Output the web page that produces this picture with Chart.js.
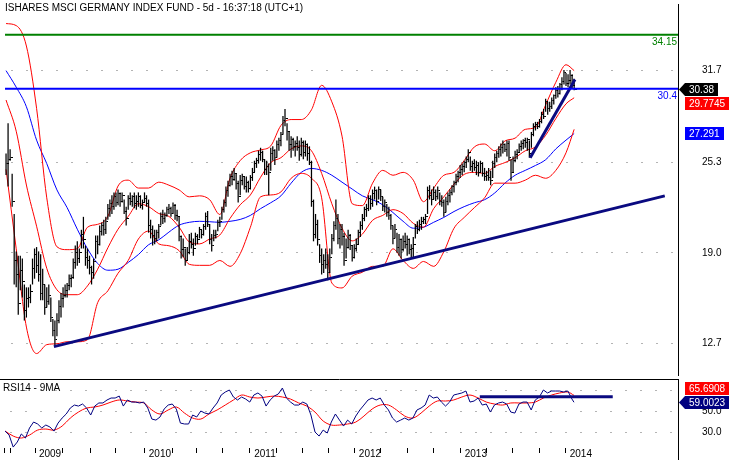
<!DOCTYPE html>
<html>
<head>
<meta charset="utf-8">
<title>iShares MSCI Germany Index Fund</title>
<script src="https://cdn.jsdelivr.net/npm/chart.js@4.4.1/dist/chart.umd.min.js"></script>
<style>
  html, body { margin: 0; padding: 0; background: #fff; }
  #marco { position: relative; width: 730px; height: 460px; overflow: hidden; }
  #graficoPrecio { position: absolute; left: 0; top: 0; }
  #graficoRsi { position: absolute; left: 0; top: 379px; }
</style>
</head>
<body>
<div id="marco">
  <canvas id="graficoPrecio" width="730" height="379"></canvas>
  <canvas id="graficoRsi" width="730" height="81"></canvas>
</div>
<script>
// Datos semanales (barras de 5 dias), semana 0 = mediados de sept. 2008
const maximos = [
  25.9,28.0,26.2,24.5,21.7,19.1,18.8,18.8,18.6,16.8,
  16.6,16.6,16.8,18.6,19.3,19.4,19.1,18.9,17.9,16.8,
  16.6,16.8,15.9,14.4,14.3,14.8,15.7,16.2,16.6,16.8,
  16.9,17.5,17.5,18.6,19.5,19.8,19.3,20.6,21.5,19.5,
  19.3,18.8,18.1,18.6,20.2,20.2,20.9,21.1,21.3,21.5,
  22.4,22.7,23.0,23.2,23.2,23.4,23.2,23.2,22.7,22.2,
  23.0,23.2,23.0,23.2,23.0,23.2,23.0,22.7,23.2,23.0,
  22.7,21.3,20.9,20.6,20.6,21.0,21.8,22.0,21.8,22.2,
  22.4,22.2,22.5,22.4,22.0,21.5,20.2,20.0,19.3,19.4,
  20.3,20.4,20.0,20.4,20.3,20.8,20.6,21.0,21.8,21.9,
  21.0,20.3,20.6,20.6,21.3,21.5,22.2,22.7,23.6,24.0,
  24.5,24.7,24.9,24.5,24.0,24.4,24.5,24.3,24.3,24.0,
  24.4,24.9,25.4,25.6,26.1,26.3,26.1,25.5,25.4,25.2,
  26.3,26.4,26.2,26.8,27.0,27.4,28.5,29.0,28.0,27.4,
  27.1,27.0,26.8,27.1,26.8,27.0,26.8,26.8,26.6,26.4,
  25.4,22.7,21.7,21.3,19.6,19.3,18.9,19.3,18.9,19.3,
  20.3,21.2,22.7,21.7,21.0,21.0,20.4,20.0,20.6,20.3,
  19.5,19.6,20.0,20.6,21.2,21.7,22.2,22.4,23.0,23.0,
  23.4,23.6,23.4,23.6,23.4,22.9,22.7,22.4,22.2,21.7,
  20.9,21.0,20.4,20.3,20.0,20.2,20.4,20.2,20.0,19.6,
  20.1,21.0,21.2,21.3,21.5,21.5,21.7,23.6,23.7,23.4,
  23.6,23.4,23.6,23.2,23.0,22.7,22.9,23.2,23.4,23.7,
  24.0,24.5,24.7,25.1,25.2,25.4,25.7,26.2,25.7,25.4,
  25.5,25.4,25.3,25.4,25.3,24.9,24.7,24.9,24.7,25.4,
  25.9,26.1,26.4,26.6,26.8,26.6,26.8,26.8,25.5,25.7,
  26.1,26.2,26.6,26.8,26.9,27.0,27.0,26.8,27.4,28.0,
  28.1,28.1,28.3,28.8,29.0,29.7,29.5,29.5,29.8,30.0,
  30.5,30.6,30.8,31.2,31.7,31.5,31.4,31.7,31.4,31.1
];
const minimos = [
  24.4,23.6,25.4,22.2,16.8,16.6,14.7,16.4,15.9,14.3,
  14.5,15.2,15.5,16.8,17.2,17.6,17.0,15.7,15.7,14.7,
  15.2,15.4,14.2,13.2,12.6,13.2,14.1,14.5,15.2,15.9,
  15.9,16.4,16.6,17.2,17.9,18.1,18.3,19.3,19.3,18.1,
  17.9,17.5,16.8,17.2,18.6,18.9,19.5,20.2,20.2,20.3,
  21.3,21.5,21.7,22.0,22.2,22.3,22.2,22.5,21.7,20.9,
  22.0,22.3,22.2,22.1,22.0,22.2,22.1,22.0,22.5,22.2,
  20.4,20.0,19.5,19.6,19.8,20.0,20.9,21.0,21.1,21.5,
  21.7,21.5,21.7,21.3,21.2,19.8,18.6,18.7,18.1,18.5,
  18.9,19.3,18.8,19.5,19.6,20.0,20.0,20.2,20.6,20.8,
  19.6,19.1,19.8,20.0,20.5,20.8,21.3,21.8,22.2,22.9,
  23.6,23.7,24.0,23.4,22.5,23.0,23.7,23.4,23.2,23.2,
  23.4,24.0,24.6,24.9,25.2,25.4,25.3,24.4,24.4,23.0,
  24.7,25.4,25.1,25.6,26.1,26.4,27.2,27.8,26.8,26.1,
  25.6,26.1,25.7,26.1,25.4,25.7,25.5,25.7,25.4,25.1,
  22.2,19.8,20.0,19.5,18.3,17.5,17.6,17.9,17.1,17.6,
  18.9,19.8,20.6,19.6,19.3,19.5,18.1,18.6,19.3,19.2,
  18.4,18.6,19.1,19.6,20.1,20.6,21.2,21.5,21.9,22.0,
  22.2,22.7,22.3,22.7,22.6,21.9,21.8,21.5,21.3,20.6,
  19.6,20.0,19.0,18.8,18.6,19.1,19.3,18.8,18.9,18.6,
  18.7,20.0,20.3,20.5,20.6,21.0,21.0,21.7,22.7,22.3,
  22.7,22.6,22.7,22.3,22.2,21.5,21.8,22.3,22.5,23.0,
  23.2,23.7,23.9,24.2,24.4,24.6,24.9,25.3,24.7,24.6,
  24.7,24.4,24.3,24.6,24.3,24.0,24.0,24.0,23.7,24.2,
  24.9,25.3,25.6,25.7,25.9,26.0,25.7,25.4,24.0,24.6,
  25.3,25.5,26.0,26.1,26.2,26.3,26.1,25.6,26.3,27.1,
  27.5,27.6,27.7,28.0,28.3,28.8,28.6,28.8,29.0,29.3,
  29.7,29.8,30.0,30.3,30.7,30.6,30.5,30.7,30.4,30.3
];
const cierres = [
  25.2,25.5,25.6,22.6,18.5,17.5,15.5,17.8,17.0,15.0,
  15.8,15.9,16.3,17.9,18.9,18.1,17.5,16.2,16.8,15.2,
  15.6,16.0,14.5,13.6,13.0,14.3,15.3,15.8,16.0,16.4,
  16.7,17.2,17.3,18.3,19.0,18.6,19.0,20.3,19.9,18.7,
  18.5,18.0,17.6,18.4,19.8,19.6,20.5,20.9,20.6,21.2,
  22.1,22.4,22.2,22.9,22.5,23.1,22.6,23.0,21.9,21.4,
  22.8,22.6,22.9,22.4,22.6,22.9,22.3,22.5,22.8,22.4,
  20.9,20.6,20.2,20.0,20.4,20.8,21.5,21.4,21.6,22.0,
  22.1,21.7,22.3,21.6,21.5,20.1,19.2,19.4,18.5,19.0,
  19.8,19.6,19.3,20.1,19.9,20.6,20.3,20.8,21.5,21.0,
  19.9,19.5,20.2,20.3,21.1,21.2,22.0,22.5,23.3,23.7,
  24.3,24.1,24.5,23.8,22.9,24.0,24.3,23.6,23.9,23.5,
  24.2,24.6,25.2,25.4,25.8,26.0,25.5,24.8,25.0,24.6,
  25.9,26.1,25.6,26.5,26.8,27.2,28.2,28.3,27.4,26.5,
  26.9,26.4,26.6,26.3,25.8,26.7,26.0,26.5,25.9,25.3,
  22.6,20.3,21.0,19.9,18.8,18.2,18.5,18.2,17.6,18.7,
  20.0,20.9,21.4,20.0,20.6,20.1,18.5,19.4,20.2,19.5,
  18.7,19.3,19.6,20.4,20.9,21.4,22.0,22.1,22.8,22.4,
  23.1,23.3,22.6,23.4,22.9,22.2,22.5,21.8,21.6,20.9,
  20.0,20.6,19.4,19.9,19.2,19.8,19.6,19.9,19.2,19.3,
  19.6,20.8,20.6,21.0,21.2,21.3,21.5,23.3,23.0,22.7,
  23.2,22.9,23.3,22.6,22.5,21.8,22.6,23.0,23.2,23.6,
  23.9,24.3,24.6,24.8,25.0,25.3,25.5,26.0,25.0,25.2,
  24.9,25.1,24.6,25.2,24.5,24.3,24.4,24.2,24.0,25.2,
  25.6,25.9,26.2,26.3,26.5,26.2,26.6,25.6,24.6,25.4,
  25.8,26.0,26.4,26.6,26.8,26.7,26.9,25.9,27.2,27.8,
  27.9,27.8,28.1,28.6,28.5,29.5,29.0,29.2,29.6,29.9,
  30.3,30.1,30.7,30.9,31.5,30.8,31.0,31.3,30.6,30.38
];

// Bandas de Bollinger y media movil (leidas cada 5 semanas)
const semanasBandas = [0,5,10,15,20,25,30,35,40,45,50,55,60,65,70,75,80,85,90,95,100,105,110,115,120,125,130,135,140,145,150,155,160,165,170,175,180,185,190,195,200,205,210,215,220,225,230,235,240,245,250,255,260,265,270,275,279];
const bandaSuperior = [34.93,34.79,33.37,29.04,22.82,19.42,19.22,19.28,20.78,20.98,21.53,23.64,24.05,23.50,23.50,23.91,23.70,23.37,22.89,22.96,22.69,21.66,24.18,25.41,25.95,26.15,26.43,27.85,28.26,28.26,28.94,30.64,29.49,27.11,22.41,22.28,23.84,24.73,24.39,24.59,24.05,22.55,23.50,24.39,24.59,25.41,26.36,26.56,26.09,26.77,26.97,27.58,27.72,29.28,30.85,32.07,31.66];
const bandaMedia = [29.62,27.45,23.71,20.85,17.92,16.43,16.09,16.09,16.70,17.86,19.35,20.64,21.53,22.41,22.21,21.73,21.53,20.78,19.76,19.62,19.96,20.24,21.39,22.34,23.02,24.25,25.27,25.61,26.22,26.43,26.09,24.52,22.41,20.71,19.83,20.30,21.26,21.60,22.00,21.73,21.05,20.78,22.07,22.89,23.77,24.45,24.59,24.52,25.00,25.27,25.61,26.09,26.36,27.17,28.33,29.35,29.7745];
const bandaInferior = [24.8,19.28,13.84,12.00,12.62,12.68,12.82,12.82,12.96,15.54,16.36,17.58,18.47,19.96,20.51,19.62,19.49,19.15,18.20,18.13,18.13,18.47,18.06,18.94,20.78,22.89,23.02,23.23,24.18,24.52,24.18,22.82,16.90,16.56,17.38,17.65,18.06,18.06,19.28,18.47,17.92,18.40,18.06,19.08,20.71,21.46,22.14,22.82,23.84,23.84,23.84,24.05,24.39,24.18,24.73,25.95,27.58];
const mediaMovil = [31.66,30.51,29.15,26.83,25.20,23.37,22.14,20.64,19.28,18.26,17.79,17.86,18.33,18.88,19.56,19.90,20.44,20.92,21.12,21.19,21.16,21.12,21.19,21.32,21.60,22.07,22.48,22.96,23.84,24.59,24.86,24.73,24.39,23.91,23.43,22.96,22.69,22.34,21.80,21.19,20.71,20.78,21.12,21.46,21.87,22.21,22.48,22.69,23.16,23.84,24.39,24.73,25.07,25.47,26.22,26.83,27.291];

// RSI14 (cada 2 semanas) y su media de 9 (cada 4 semanas)
const rsi14 = [
  31.0,27.2,15.5,20.4,28.2,24.3,34.0,39.8,37.9,34.0,
  36.9,35.0,31.0,38.8,43.7,47.6,53.4,56.3,55.3,57.3,
  53.4,46.6,55.3,58.3,58.3,61.2,63.1,63.1,65.0,55.3,
  61.2,59.2,59.2,58.3,59.2,53.4,42.7,41.7,44.7,52.4,
  56.3,57.3,52.4,38.8,37.9,37.9,46.6,44.7,50.5,48.5,
  47.6,53.4,58.3,66.0,68.9,70.9,64.1,61.2,64.1,62.1,
  59.2,66.0,68.0,65.0,55.3,61.2,65.0,67.0,72.8,63.1,
  59.2,56.3,56.3,59.2,57.3,46.6,30.1,26.2,32.0,29.1,
  39.8,47.6,41.7,35.9,41.7,37.9,45.6,51.5,56.3,61.2,
  63.1,61.2,63.1,56.3,51.5,43.7,39.8,41.7,43.7,41.7,
  43.7,51.5,53.4,56.3,66.0,63.1,64.1,59.2,55.3,59.2,
  66.0,67.0,68.0,69.9,59.2,60.2,63.1,56.3,57.3,49.5,
  56.3,58.3,59.2,57.3,49.5,48.5,57.3,59.2,59.2,51.5,
  61.2,64.1,70.9,68.0,69.9,69.9,69.9,68.9,69.9,62.1,
  59.0023
];
const mediaRsi = [
  31.1,26.2,24.3,27.2,32.0,33.0,32.0,35.9,43.7,49.5,
  53.4,54.4,56.3,59.2,61.2,60.2,59.2,58.3,51.5,47.6,
  51.5,54.4,48.5,43.7,42.7,47.6,51.5,56.3,61.2,66.0,
  64.1,63.1,64.1,65.0,64.1,62.1,58.3,55.3,49.5,40.8,
  36.9,36.9,37.9,39.8,45.6,52.4,56.3,56.3,51.5,45.6,
  43.7,48.5,55.3,60.2,60.2,61.2,64.1,66.0,63.1,59.2,
  57.3,56.3,58.3,58.3,58.3,59.2,63.1,66.0,68.0,68.9,
  65.6908
];

// Lineas dibujadas a mano en el grafico original
const nivelVerde = 34.15;
const nivelAzul = 30.4;
const soporteSemanas = [23.5, 323.5];
const soporteValores = [12.48, 22.96];
const canalSemanas = [257.4, 279.4];
const canalValores = [25.61, 31.05];
const lineaRsiSemanas = [232.8, 298];
const lineaRsiValor = 64.4;

// Ejes
const ticksPrecio = [12.7, 19.0, 25.3, 31.7];
const ticksRsi = [30, 50, 70];
const semanasTrimestre = [-0.5, 2.9, 14.7, 28.4, 41.7, 54.4, 68.6, 81.9, 94.1, 106.4, 120.1, 133.3, 146.1, 158.8, 171.6, 184.3, 197.5, 210.3, 223.5, 236.3, 249.0, 262.3, 275.0];
const semanasAnio = [14.7, 68.6, 120.1, 171.6, 223.5, 275.0];
const etiquetasAnio = ['2009', '2010', '2011', '2012', '2013', '2014'];

const titulo = 'ISHARES MSCI GERMANY INDEX FUND - 5d - 16:37:18 (UTC+1)';
const fuente = '"Liberation Sans", Arial, sans-serif';

function rango(inicio, paso, n) {
    const r = [];
    for (let i = 0; i < n; i++) r.push(inicio + i * paso);
    return r;
}
const semanasRsi = rango(0, 2, 140).concat([279]);
const semanasMediaRsi = rango(0, 4, 70).concat([279]);

function puntos(semanas, valores) {
    return semanas.map((s, i) => ({ x: s, y: valores[i] }));
}

// Marca de cierre a la derecha de cada barra
const marcaCierre = document.createElement('canvas');
marcaCierre.width = 5;
marcaCierre.height = 1;
const ctxMarca = marcaCierre.getContext('2d');
ctxMarca.fillStyle = '#000';
ctxMarca.fillRect(3, 0, 2, 1);

// Etiquetas de valor en el eje derecho
function dibujarEtiqueta(ctx, texto, yc, fondo, colorTexto, flecha) {
    const alto = 13;
    const izq = 685;
    ctx.save();
    ctx.font = '10px ' + fuente;
    const ancho = Math.round(ctx.measureText(texto).width) + 8;
    const arriba = Math.round(yc - alto / 2);
    ctx.fillStyle = fondo;
    ctx.fillRect(izq, arriba, ancho, alto);
    if (flecha) {
        ctx.beginPath();
        ctx.moveTo(izq - 6, arriba + alto / 2);
        ctx.lineTo(izq, arriba);
        ctx.lineTo(izq, arriba + alto);
        ctx.closePath();
        ctx.fill();
    }
    ctx.fillStyle = colorTexto;
    ctx.textBaseline = 'middle';
    ctx.fillText(texto, izq + 4, arriba + alto / 2 + 0.5);
    ctx.restore();
}

function ubicarEtiquetas(etiquetas) {
    const alto = 14;
    const principal = etiquetas.find(e => e.flecha);
    const abajo = etiquetas.filter(e => !e.flecha && e.y >= principal.y).sort((a, b) => a.y - b.y);
    const arriba = etiquetas.filter(e => !e.flecha && e.y < principal.y).sort((a, b) => b.y - a.y);
    let ultimo = principal.y;
    abajo.forEach(e => { if (e.y < ultimo + alto) e.y = ultimo + alto; ultimo = e.y; });
    ultimo = principal.y;
    arriba.forEach(e => { if (e.y > ultimo - alto) e.y = ultimo - alto; ultimo = e.y; });
}

const rotulosPrecio = {
    id: 'rotulosPrecio',
    afterDraw(chart) {
        const { ctx, chartArea, scales } = chart;
        const y = scales.y;
        ctx.save();
        ctx.font = '10px ' + fuente;
        ctx.fillStyle = '#000';
        ctx.fillText(titulo, chartArea.left + 1, 11);
        ctx.textAlign = 'right';
        ctx.textBaseline = 'top';
        ctx.fillStyle = '#008000';
        ctx.fillText(nivelVerde.toFixed(2), chartArea.right - 1, y.getPixelForValue(nivelVerde) + 2);
        ctx.fillStyle = '#0000ff';
        ctx.fillText(String(nivelAzul), chartArea.right - 1, y.getPixelForValue(nivelAzul) + 2);
        ctx.restore();

        const n = cierres.length - 1;
        const etiquetas = [
            { v: cierres[n], fondo: '#000000', texto: '#ffffff', flecha: true },
            { v: bandaMedia[bandaMedia.length - 1], fondo: '#ff0000', texto: '#ffffff', flecha: false },
            { v: mediaMovil[mediaMovil.length - 1], fondo: '#0000ff', texto: '#ffffff', flecha: false }
        ];
        etiquetas.forEach(e => { e.y = y.getPixelForValue(e.v); });
        ubicarEtiquetas(etiquetas);
        etiquetas.forEach(e => dibujarEtiqueta(ctx, String(e.v), e.y, e.fondo, e.texto, e.flecha));
    }
};

const rotulosRsi = {
    id: 'rotulosRsi',
    afterDraw(chart) {
        const { ctx, chartArea, scales, height } = chart;
        ctx.save();
        ctx.strokeStyle = '#000';
        ctx.lineWidth = 1;
        ctx.beginPath();
        ctx.moveTo(0, 0.5);
        ctx.lineTo(chartArea.right + 1, 0.5);
        ctx.moveTo(chartArea.right + 0.5, chartArea.bottom);
        ctx.lineTo(chartArea.right + 0.5, height);
        ctx.stroke();
        ctx.font = '10px ' + fuente;
        ctx.fillStyle = '#000';
        ctx.fillText('RSI14 - 9MA', chartArea.left, 12);
        ctx.restore();

        const y = scales.y;
        const etiquetas = [
            { v: rsi14[rsi14.length - 1], fondo: '#000080', texto: '#ffffff', flecha: true },
            { v: mediaRsi[mediaRsi.length - 1], fondo: '#ff0000', texto: '#ffffff', flecha: false }
        ];
        etiquetas.forEach(e => { e.y = y.getPixelForValue(e.v); });
        ubicarEtiquetas(etiquetas);
        etiquetas.forEach(e => dibujarEtiqueta(ctx, String(e.v), e.y, e.fondo, e.texto, e.flecha));
    }
};

function ejeDerecho(min, max, valores) {
    return {
        position: 'right',
        min: min,
        max: max,
        afterFit: (s) => { s.width = 52; s.paddingTop = 0; s.paddingBottom = 0; },
        afterBuildTicks: (s) => { s.ticks = valores.map(v => ({ value: v })); },
        ticks: {
            padding: 24,
            color: '#000',
            font: { family: fuente, size: 10 },
            callback: (v) => Number(v).toFixed(1)
        },
        grid: { color: '#b4b4b4', drawTicks: false, lineWidth: 1 },
        border: { display: true, color: '#000', width: 1, dash: [2, 13], dashOffset: 8 }
    };
}

function crearGraficoPrecio() {
    const ctx = document.getElementById('graficoPrecio').getContext('2d');
    const linea = (etiqueta, datos, color, ancho, orden, extra) => Object.assign({
        type: 'line', label: etiqueta, data: datos, borderColor: color, borderWidth: ancho,
        pointRadius: 0, fill: false, order: orden
    }, extra || {});

    new Chart(ctx, {
        type: 'bar',
        data: {
            datasets: [
                linea('Banda superior', puntos(semanasBandas, bandaSuperior), '#ff0000', 1, 6, { cubicInterpolationMode: 'monotone' }),
                linea('Banda media', puntos(semanasBandas, bandaMedia), '#ff0000', 1, 6, { cubicInterpolationMode: 'monotone' }),
                linea('Banda inferior', puntos(semanasBandas, bandaInferior), '#ff0000', 1, 6, { cubicInterpolationMode: 'monotone' }),
                linea('Media movil', puntos(semanasBandas, mediaMovil), '#0000ff', 1, 6, { cubicInterpolationMode: 'monotone' }),
                {
                    type: 'bar',
                    label: 'Rango',
                    data: maximos.map((h, i) => ({ x: i, y: [minimos[i], h] })),
                    backgroundColor: '#000',
                    barThickness: 1.25,
                    inflateAmount: 0,
                    order: 4
                },
                linea('Cierre', cierres.map((c, i) => ({ x: i, y: c })), '#000', 0, 3, {
                    showLine: false, pointRadius: 1, pointStyle: marcaCierre
                }),
                linea('34.15', [{ x: -0.5, y: nivelVerde }, { x: 330, y: nivelVerde }], '#008000', 2, 1),
                linea('30.4', [{ x: -0.5, y: nivelAzul }, { x: 330, y: nivelAzul }], '#0000ff', 2, 1),
                linea('Soporte', puntos(soporteSemanas, soporteValores), '#0a0a80', 3, 1),
                linea('Canal', puntos(canalSemanas, canalValores), '#0a0a80', 3, 1)
            ]
        },
        options: {
            responsive: false,
            devicePixelRatio: 1,
            animation: false,
            events: [],
            layout: { padding: { left: 3, top: 0, right: 0, bottom: 0 } },
            scales: {
                x: { type: 'linear', min: -1, max: 330, display: false, offset: false, grid: { offset: false } },
                y: ejeDerecho(10.51, 36.29, ticksPrecio)
            },
            plugins: { legend: { display: false }, tooltip: { enabled: false } }
        },
        plugins: [rotulosPrecio]
    });
}

function crearGraficoRsi() {
    const ctx = document.getElementById('graficoRsi').getContext('2d');
    new Chart(ctx, {
        type: 'line',
        data: {
            datasets: [
                { label: 'RSI14', data: puntos(semanasRsi, rsi14), borderColor: '#000080', borderWidth: 1, pointRadius: 0, tension: 0, order: 2 },
                { label: '9MA', data: puntos(semanasMediaRsi, mediaRsi), borderColor: '#ff0000', borderWidth: 1, pointRadius: 0, tension: 0.35, order: 3 },
                { label: 'Linea', data: lineaRsiSemanas.map(s => ({ x: s, y: lineaRsiValor })), borderColor: '#0a0a80', borderWidth: 3, pointRadius: 0, order: 1 }
            ]
        },
        options: {
            responsive: false,
            devicePixelRatio: 1,
            animation: false,
            events: [],
            layout: { padding: { left: 3, top: 1, right: 0, bottom: 0 } },
            scales: {
                x: {
                    type: 'linear',
                    min: -1,
                    max: 330,
                    position: 'bottom',
                    afterFit: (s) => { s.height = 12; s.paddingLeft = 0; s.paddingRight = 0; },
                    afterBuildTicks: (s) => { s.ticks = semanasTrimestre.map(v => ({ value: v })); },
                    grid: { drawOnChartArea: false, drawTicks: true, tickLength: 5, color: '#000' },
                    border: { display: false },
                    ticks: {
                        autoSkip: false,
                        maxRotation: 0,
                        minRotation: 0,
                        padding: -5,
                        labelOffset: 15,
                        color: '#000',
                        font: { family: fuente, size: 10 },
                        callback: (v) => {
                            const k = semanasAnio.indexOf(v);
                            return k >= 0 ? etiquetasAnio[k] : '';
                        }
                    }
                },
                y: ejeDerecho(14.6, 80.6, ticksRsi)
            },
            plugins: { legend: { display: false }, tooltip: { enabled: false } }
        },
        plugins: [rotulosRsi]
    });
}

document.addEventListener('DOMContentLoaded', function() {
    try {
        crearGraficoPrecio();
        crearGraficoRsi();
    } catch (error) {
        console.error('Error al crear los graficos:', error);
    }
});
</script>
</body>
</html>
